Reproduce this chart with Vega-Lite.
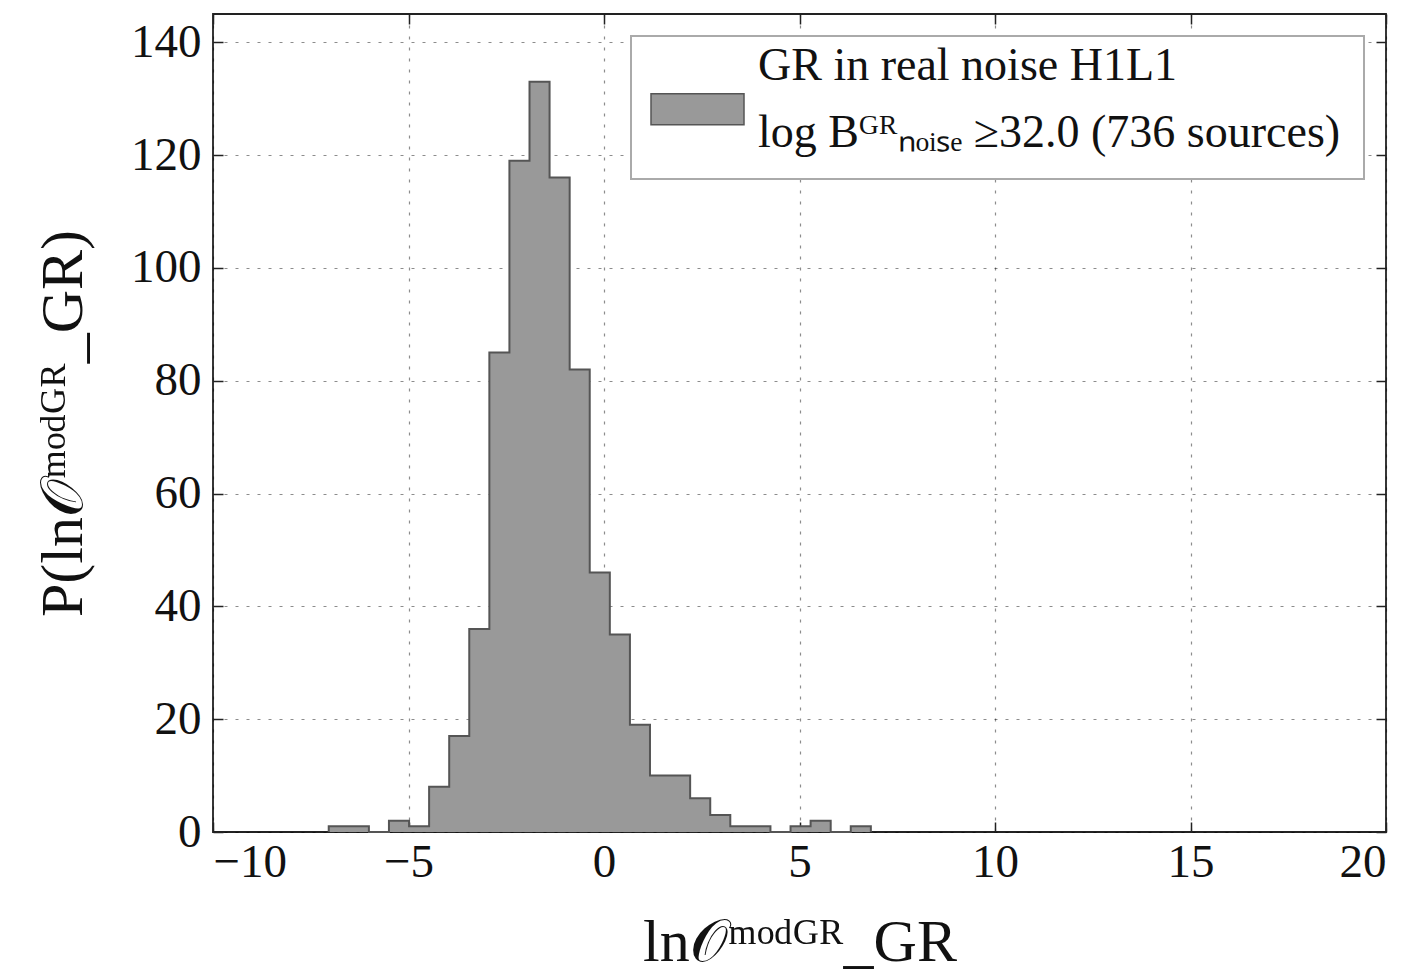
{
  "$schema": "https://vega.github.io/schema/vega-lite/v6.json",
  "width": 1173,
  "height": 818,
  "autosize": {"type": "none"},
  "padding": {"left": 213, "top": 14, "right": 28, "bottom": 146},
  "background": "white",
  "config": {
    "view": {"stroke": "#222222", "strokeWidth": 1.8},
    "font": "Liberation Serif",
    "axis": {
      "domain": false,
      "labelFont": "Liberation Serif",
      "labelFontSize": 47,
      "labelColor": "#111111",
      "tickColor": "#222222",
      "tickWidth": 1.5,
      "tickSize": -10,
      "gridColor": "#000000",
      "gridOpacity": 0.45,
      "gridDash": [3, 8],
      "gridWidth": 1.2,
      "titleFont": "Liberation Serif",
      "titleFontWeight": "normal",
      "titleFontSize": 60,
      "titleColor": "#111111",
      "zindex": 1
    },
    "legend": {
      "labelFont": "Liberation Serif",
      "labelFontSize": 46,
      "labelColor": "#111111"
    }
  },
  "datasets": {
    "hist": [
      {"edge": -7.040, "count": 0},
      {"edge": -7.040, "count": 1},
      {"edge": -6.527, "count": 1},
      {"edge": -6.013, "count": 0},
      {"edge": -5.500, "count": 2},
      {"edge": -4.986, "count": 1},
      {"edge": -4.473, "count": 8},
      {"edge": -3.959, "count": 17},
      {"edge": -3.446, "count": 36},
      {"edge": -2.932, "count": 85},
      {"edge": -2.419, "count": 119},
      {"edge": -1.905, "count": 133},
      {"edge": -1.392, "count": 116},
      {"edge": -0.878, "count": 82},
      {"edge": -0.365, "count": 46},
      {"edge": 0.149, "count": 35},
      {"edge": 0.663, "count": 19},
      {"edge": 1.176, "count": 10},
      {"edge": 1.690, "count": 10},
      {"edge": 2.203, "count": 6},
      {"edge": 2.717, "count": 3},
      {"edge": 3.230, "count": 1},
      {"edge": 3.744, "count": 1},
      {"edge": 4.257, "count": 0},
      {"edge": 4.771, "count": 1},
      {"edge": 5.284, "count": 2},
      {"edge": 5.798, "count": 0},
      {"edge": 6.311, "count": 1},
      {"edge": 6.825, "count": 0}
    ]
  },
  "data": {"name": "hist"},
  "layer": [
    {
      "mark": {"type": "area", "interpolate": "step-after", "opacity": 1},
      "encoding": {
        "x": {
          "field": "edge",
          "type": "quantitative",
          "scale": {"domain": [-10, 20], "nice": false, "zero": false},
          "axis": {
            "orient": "bottom",
            "values": [-10, -5, 0, 5, 10, 15, 20],
            "grid": true,
            "labelPadding": 17,
            "title": "ln𝒪ᵐᵒᵈᴳᴿ_GR",
            "titlePadding": 28
          }
        },
        "y": {
          "field": "count",
          "type": "quantitative",
          "stack": null,
          "scale": {"domain": [0, 145], "nice": false},
          "axis": {
            "orient": "left",
            "values": [0, 20, 40, 60, 80, 100, 120, 140],
            "grid": true,
            "labelPadding": 22,
            "title": "P(ln𝒪ᵐᵒᵈᴳᴿ_GR)",
            "titlePadding": 36
          }
        },
        "color": {
          "datum": "GR in real noise H1L1",
          "type": "nominal",
          "scale": {"range": ["#999999"]},
          "legend": {
            "title": null,
            "orient": "top-right",
            "offset": 22,
            "padding": 23,
            "strokeColor": "#aaaaaa",
            "fillColor": "white",
            "symbolType": "M-1.129,0.09H1.871V1.09H-1.129Z",
            "symbolSize": 3844,
            "symbolStrokeColor": "#555555",
            "symbolStrokeWidth": 1.5,
            "symbolOpacity": 1,
            "labelOffset": 40,
            "labelLimit": 0,
            "labelExpr": "['GR in real noise H1L1', 'log Bᴳᴿₙₒᵢₛₑ ≥32.0 (736 sources)']",
            "encode": {
              "labels": {"update": {"lineHeight": {"value": 67}, "dy": {"value": -25}}},
              "legend": {"update": {"strokeWidth": {"value": 2}}}
            }
          }
        }
      }
    },
    {
      "mark": {"type": "line", "interpolate": "step-after", "color": "#555555", "strokeWidth": 2},
      "encoding": {
        "x": {
          "field": "edge",
          "type": "quantitative",
          "scale": {"domain": [-10, 20], "nice": false, "zero": false},
          "axis": {"orient": "top", "values": [-10, -5, 0, 5, 10, 15, 20], "labels": false, "title": null, "grid": false}
        },
        "y": {
          "field": "count",
          "type": "quantitative",
          "scale": {"domain": [0, 145], "nice": false},
          "axis": {"orient": "right", "values": [0, 20, 40, 60, 80, 100, 120, 140], "labels": false, "title": null, "grid": false}
        }
      }
    }
  ],
  "resolve": {"axis": {"x": "independent", "y": "independent"}}
}
